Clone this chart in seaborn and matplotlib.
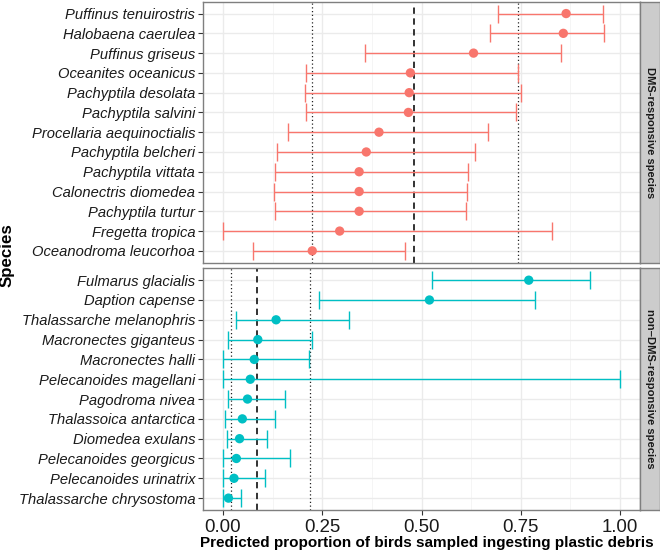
import numpy as np
import pandas as pd
import matplotlib
matplotlib.use("Agg")
import matplotlib.pyplot as plt
import seaborn as sns

# ---- data ----
dms_species = ["Puffinus tenuirostris", "Halobaena caerulea", "Puffinus griseus",
               "Oceanites oceanicus", "Pachyptila desolata", "Pachyptila salvini",
               "Procellaria aequinoctialis", "Pachyptila belcheri", "Pachyptila vittata",
               "Calonectris diomedea", "Pachyptila turtur", "Fregetta tropica",
               "Oceanodroma leucorhoa"]
dms_est = [0.864, 0.857, 0.631, 0.472, 0.469, 0.467, 0.393, 0.361, 0.343, 0.343, 0.343, 0.294, 0.225]
dms_low = [0.693, 0.672, 0.357, 0.210, 0.207, 0.209, 0.163, 0.136, 0.131, 0.128, 0.132, 0.0, 0.077]
dms_high = [0.957, 0.959, 0.851, 0.742, 0.751, 0.739, 0.668, 0.635, 0.616, 0.614, 0.612, 0.829, 0.458]
dms_ref = [0.225, 0.482, 0.742]   # dotted, dashed, dotted

non_species = ["Fulmarus glacialis", "Daption capense", "Thalassarche melanophris",
               "Macronectes giganteus", "Macronectes halli", "Pelecanoides magellani",
               "Pagodroma nivea", "Thalassoica antarctica", "Diomedea exulans",
               "Pelecanoides georgicus", "Pelecanoides urinatrix", "Thalassarche chrysostoma"]
non_est = [0.770, 0.520, 0.134, 0.088, 0.079, 0.069, 0.062, 0.049, 0.042, 0.034, 0.028, 0.014]
non_low = [0.527, 0.243, 0.033, 0.014, 0.0, 0.0, 0.014, 0.006, 0.010, 0.0, 0.0, 0.0]
non_high = [0.924, 0.785, 0.317, 0.224, 0.217, 1.0, 0.157, 0.131, 0.110, 0.168, 0.105, 0.045]
non_ref = [0.020, 0.085, 0.220]

groups = ["DMS-responsive species", "non\u2013DMS-responsive species"]
colors = ["#F8766D", "#00BFC4"]
xticks = [0.0, 0.25, 0.5, 0.75, 1.0]
xticklabels = ["0.00", "0.25", "0.50", "0.75", "1.00"]

# ---- figure ----
W, H = 660, 553
fig = plt.figure(figsize=(W / 100, H / 100), dpi=100)
renderer = fig.canvas.get_renderer()


def fbox(x0, y0, x1, y1):
    return [x0 / W, 1 - y1 / H, (x1 - x0) / W, (y1 - y0) / H]


def fit(txt, target, dim="w"):
    """Scale a text's font size so its extent matches target pixels."""
    for _ in range(3):
        bb = txt.get_window_extent(renderer)
        cur = bb.width if dim == "w" else bb.height
        if cur > 0:
            txt.set_fontsize(txt.get_fontsize() * target / cur)


panels = [
    (dms_species, dms_est, dms_low, dms_high, dms_ref, fbox(203, 1.7, 640, 262.7), fbox(640, 1.7, 659.5, 262.7)),
    (non_species, non_est, non_low, non_high, non_ref, fbox(203, 268.3, 640, 510), fbox(640, 268.3, 659.5, 510)),
]

tickfont = "Liberation Sans"

# determine tick label font size from a probe
probe = fig.text(0, 0, "Procellaria aequinoctialis", fontstyle="italic", family=tickfont, fontsize=10)
fit(probe, 163.5)
ytick_fs = probe.get_fontsize()
probe.remove()
probe = fig.text(0, 0, "0.00", family=tickfont, fontsize=10)
fit(probe, 36.5)
xtick_fs = probe.get_fontsize()
probe.remove()

for i, (sp, est, lo, hi, ref, box, sbox) in enumerate(panels):
    ax = fig.add_axes(box)
    df = pd.DataFrame({"species": sp, "est": est, "low": lo, "high": hi})
    df["pos"] = np.arange(len(df))
    ax.set_facecolor("white")
    # grid
    for gx in np.arange(-0.125, 1.2, 0.125):
        major = abs((gx / 0.25) - round(gx / 0.25)) < 1e-6
        ax.axvline(gx, color="#EBEBEB" if major else "#F4F4F4", lw=1.0 if major else 0.6, zorder=0)
    for p in df["pos"]:
        ax.axhline(p, color="#EBEBEB", lw=1.0, zorder=0)
    # reference lines
    ax.axvline(ref[0], color="#222222", lw=0.9, ls=(0, (1, 2)), zorder=1)
    ax.axvline(ref[1], color="#222222", lw=1.3, ls=(0, (3.5, 2.5)), zorder=1)
    ax.axvline(ref[2], color="#222222", lw=0.9, ls=(0, (1, 2)), zorder=1)
    # error bars
    ax.errorbar(df["est"], df["pos"],
                xerr=[df["est"] - df["low"], df["high"] - df["est"]],
                fmt="none", ecolor=colors[i], elinewidth=1.0, capsize=6.3,
                capthick=1.0, zorder=2)
    sns.scatterplot(data=df, x="est", y="pos", color=colors[i], s=45,
                    edgecolor="none", ax=ax, zorder=3, legend=False)
    n = len(df)
    ax.set_xlim(-0.05, 1.05)
    ax.set_ylim(n - 1 + 0.6, -0.6)
    ax.set_yticks(df["pos"])
    ax.set_yticklabels(df["species"], fontstyle="italic", fontsize=ytick_fs,
                       family=tickfont, color="#1a1a1a")
    ax.set_xticks(xticks)
    ax.tick_params(axis="both", color="#333333", width=0.8, length=3.5, pad=2)
    if i == 1:
        ax.set_xticklabels(xticklabels, fontsize=xtick_fs, family=tickfont, color="#1a1a1a")
        ax.tick_params(axis="x", pad=3)
    else:
        ax.set_xticklabels([])
        ax.tick_params(axis="x", length=0)
    ax.set_xlabel("")
    ax.set_ylabel("")
    for s in ax.spines.values():
        s.set_color("#7F7F7F")
        s.set_linewidth(1.0)
    # strip
    sax = fig.add_axes(sbox)
    sax.set_facecolor("#CCCCCC")
    sax.set_xticks([]); sax.set_yticks([])
    for s in sax.spines.values():
        s.set_color("#7F7F7F")
        s.set_linewidth(1.0)
    st = sax.text(0.5, 0.5, groups[i], rotation=-90, ha="center", va="center",
                  fontsize=8.0, fontweight="bold", family=tickfont, color="#1a1a1a",
                  transform=sax.transAxes)
    fit(st, [132, 159][i], "h")

xt = fig.text(427 / W, 1 - 543 / H, "Predicted proportion of birds sampled ingesting plastic debris",
              ha="center", va="center", fontsize=10, fontweight="bold", family=tickfont)
fit(xt, 451)
yt = fig.text(7.5 / W, 1 - 255 / H, "Species", rotation=90, ha="center", va="center",
              fontsize=10, fontweight="bold", family=tickfont)
fit(yt, 64, "h")

fig.savefig("out.png", dpi=100, facecolor="white")
